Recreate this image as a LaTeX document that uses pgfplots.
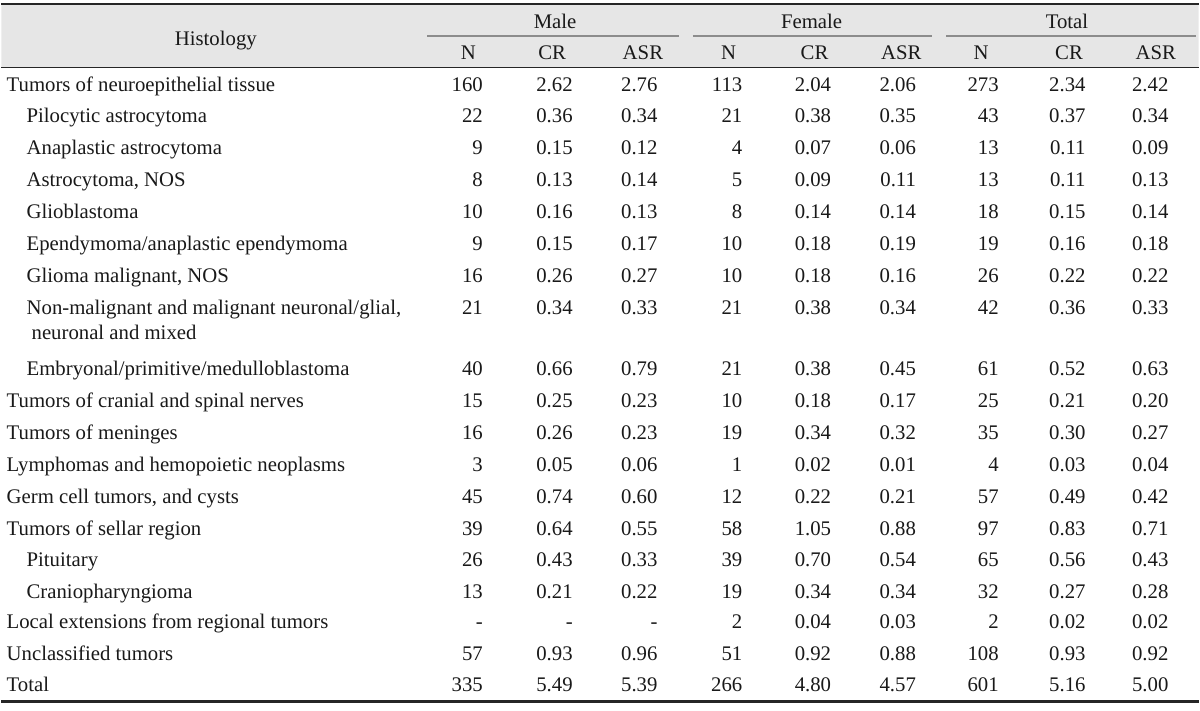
\documentclass[border=0pt]{standalone}
\usepackage{pgfplots}
\usepackage{pgfplotstable}
\pgfplotsset{compat=1.18}
\usepackage{fontspec}
\setmainfont{Liberation Serif}

\definecolor{hdrfill}{HTML}{E6E6E6}
\definecolor{rulegray}{HTML}{8C8C8C}

% row labels: x, y, text
\pgfplotstableread[col sep=semicolon]{
x;y;label
5;84;Tumors of neuroepithelial tissue
25;116;Pilocytic astrocytoma
25;148;Anaplastic astrocytoma
25;180;Astrocytoma, NOS
25;212;Glioblastoma
25;244;Ependymoma/anaplastic ependymoma
25;276;Glioma malignant, NOS
25;308;Non-malignant and malignant neuronal/glial,
30;333;neuronal and mixed
25;369;Embryonal/primitive/medulloblastoma
5;401;Tumors of cranial and spinal nerves
5;433;Tumors of meninges
5;465;Lymphomas and hemopoietic neoplasms
5;497;Germ cell tumors, and cysts
5;529;Tumors of sellar region
25;561;Pituitary
25;593;Craniopharyngioma
5;623;Local extensions from regional tumors
5;655;Unclassified tumors
5;686;Total
}\labels

% values: row y, then N / CR / ASR for male, female, total
\pgfplotstableread{
y   mN  mCR  mASR fN  fCR  fASR tN  tCR  tASR
84  160 2.62 2.76 113 2.04 2.06 273 2.34 2.42
116 22  0.36 0.34 21  0.38 0.35 43  0.37 0.34
148 9   0.15 0.12 4   0.07 0.06 13  0.11 0.09
180 8   0.13 0.14 5   0.09 0.11 13  0.11 0.13
212 10  0.16 0.13 8   0.14 0.14 18  0.15 0.14
244 9   0.15 0.17 10  0.18 0.19 19  0.16 0.18
276 16  0.26 0.27 10  0.18 0.16 26  0.22 0.22
308 21  0.34 0.33 21  0.38 0.34 42  0.36 0.33
369 40  0.66 0.79 21  0.38 0.45 61  0.52 0.63
401 15  0.25 0.23 10  0.18 0.17 25  0.21 0.20
433 16  0.26 0.23 19  0.34 0.32 35  0.30 0.27
465 3   0.05 0.06 1   0.02 0.01 4   0.03 0.04
497 45  0.74 0.60 12  0.22 0.21 57  0.49 0.42
529 39  0.64 0.55 58  1.05 0.88 97  0.83 0.71
561 26  0.43 0.33 39  0.70 0.54 65  0.56 0.43
593 13  0.21 0.22 19  0.34 0.34 32  0.27 0.28
623 -   -    -    2   0.04 0.03 2   0.02 0.02
655 57  0.93 0.96 51  0.92 0.88 108 0.93 0.92
686 335 5.49 5.39 266 4.80 4.57 601 5.16 5.00
}\values

% header texts: x, y, text
\pgfplotstableread[col sep=semicolon]{
x;y;label
215;38;Histology
555;21;Male
812;21;Female
1068;21;Total
468;52;N
552;52;CR
643;52;ASR
729;52;N
815;52;CR
902;52;ASR
982;52;N
1070;52;CR
1157;52;ASR
}\heads

\begin{document}
\begin{tikzpicture}
\begin{axis}[
    width=600pt, height=352.5pt,
    scale only axis,
    xmin=0, xmax=1200,
    ymin=0, ymax=705,
    y dir=reverse,
    hide axis,
    clip=false,
    point meta=explicit symbolic,
    nodes near coords={\pgfplotspointmeta},
    every node near coord/.append style={font=\fontsize{10.4}{12}\selectfont,
        inner sep=0pt, text=black!90, yshift=-3.6pt},
]
% page extent
\addplot[draw=none, mark=none, point meta=none, nodes near coords={}] coordinates {(0,0) (1200,705)};

% header background and rules
\addplot[fill=hdrfill, draw=none, point meta=none, nodes near coords={}] coordinates {(0,4) (1200,4) (1200,67) (0,67) (0,4)};
\addplot[black!85, line width=1.3pt, point meta=none, nodes near coords={}] coordinates {(0,4) (1200,4)};
\addplot[black!85, line width=0.8pt, point meta=none, nodes near coords={}] coordinates {(0,67.5) (1200,67.5)};
\addplot[black!85, line width=1.3pt, point meta=none, nodes near coords={}] coordinates {(0,703) (1200,703)};
\addplot[rulegray, line width=0.6pt, point meta=none, nodes near coords={}] coordinates {(427,36) (679,36)};
\addplot[rulegray, line width=0.6pt, point meta=none, nodes near coords={}] coordinates {(693,36) (933,36)};
\addplot[rulegray, line width=0.6pt, point meta=none, nodes near coords={}] coordinates {(947,36) (1197,36)};

% header text
\addplot[only marks, mark=none, nodes near coords align={anchor=base}]
    table[x=x, y=y, meta=label] {\heads};

% row labels
\addplot[only marks, mark=none, nodes near coords align={anchor=base west}]
    table[x=x, y=y, meta=label] {\labels};

% values, right aligned in each column
\addplot[only marks, mark=none, nodes near coords align={anchor=base east}] table[x expr=483, y=y, meta=mN] {\values};
\addplot[only marks, mark=none, nodes near coords align={anchor=base east}] table[x expr=573, y=y, meta=mCR] {\values};
\addplot[only marks, mark=none, nodes near coords align={anchor=base east}] table[x expr=658, y=y, meta=mASR] {\values};
\addplot[only marks, mark=none, nodes near coords align={anchor=base east}] table[x expr=743, y=y, meta=fN] {\values};
\addplot[only marks, mark=none, nodes near coords align={anchor=base east}] table[x expr=832, y=y, meta=fCR] {\values};
\addplot[only marks, mark=none, nodes near coords align={anchor=base east}] table[x expr=917, y=y, meta=fASR] {\values};
\addplot[only marks, mark=none, nodes near coords align={anchor=base east}] table[x expr=1000, y=y, meta=tN] {\values};
\addplot[only marks, mark=none, nodes near coords align={anchor=base east}] table[x expr=1087, y=y, meta=tCR] {\values};
\addplot[only marks, mark=none, nodes near coords align={anchor=base east}] table[x expr=1170, y=y, meta=tASR] {\values};
\end{axis}
\end{tikzpicture}
\end{document}
